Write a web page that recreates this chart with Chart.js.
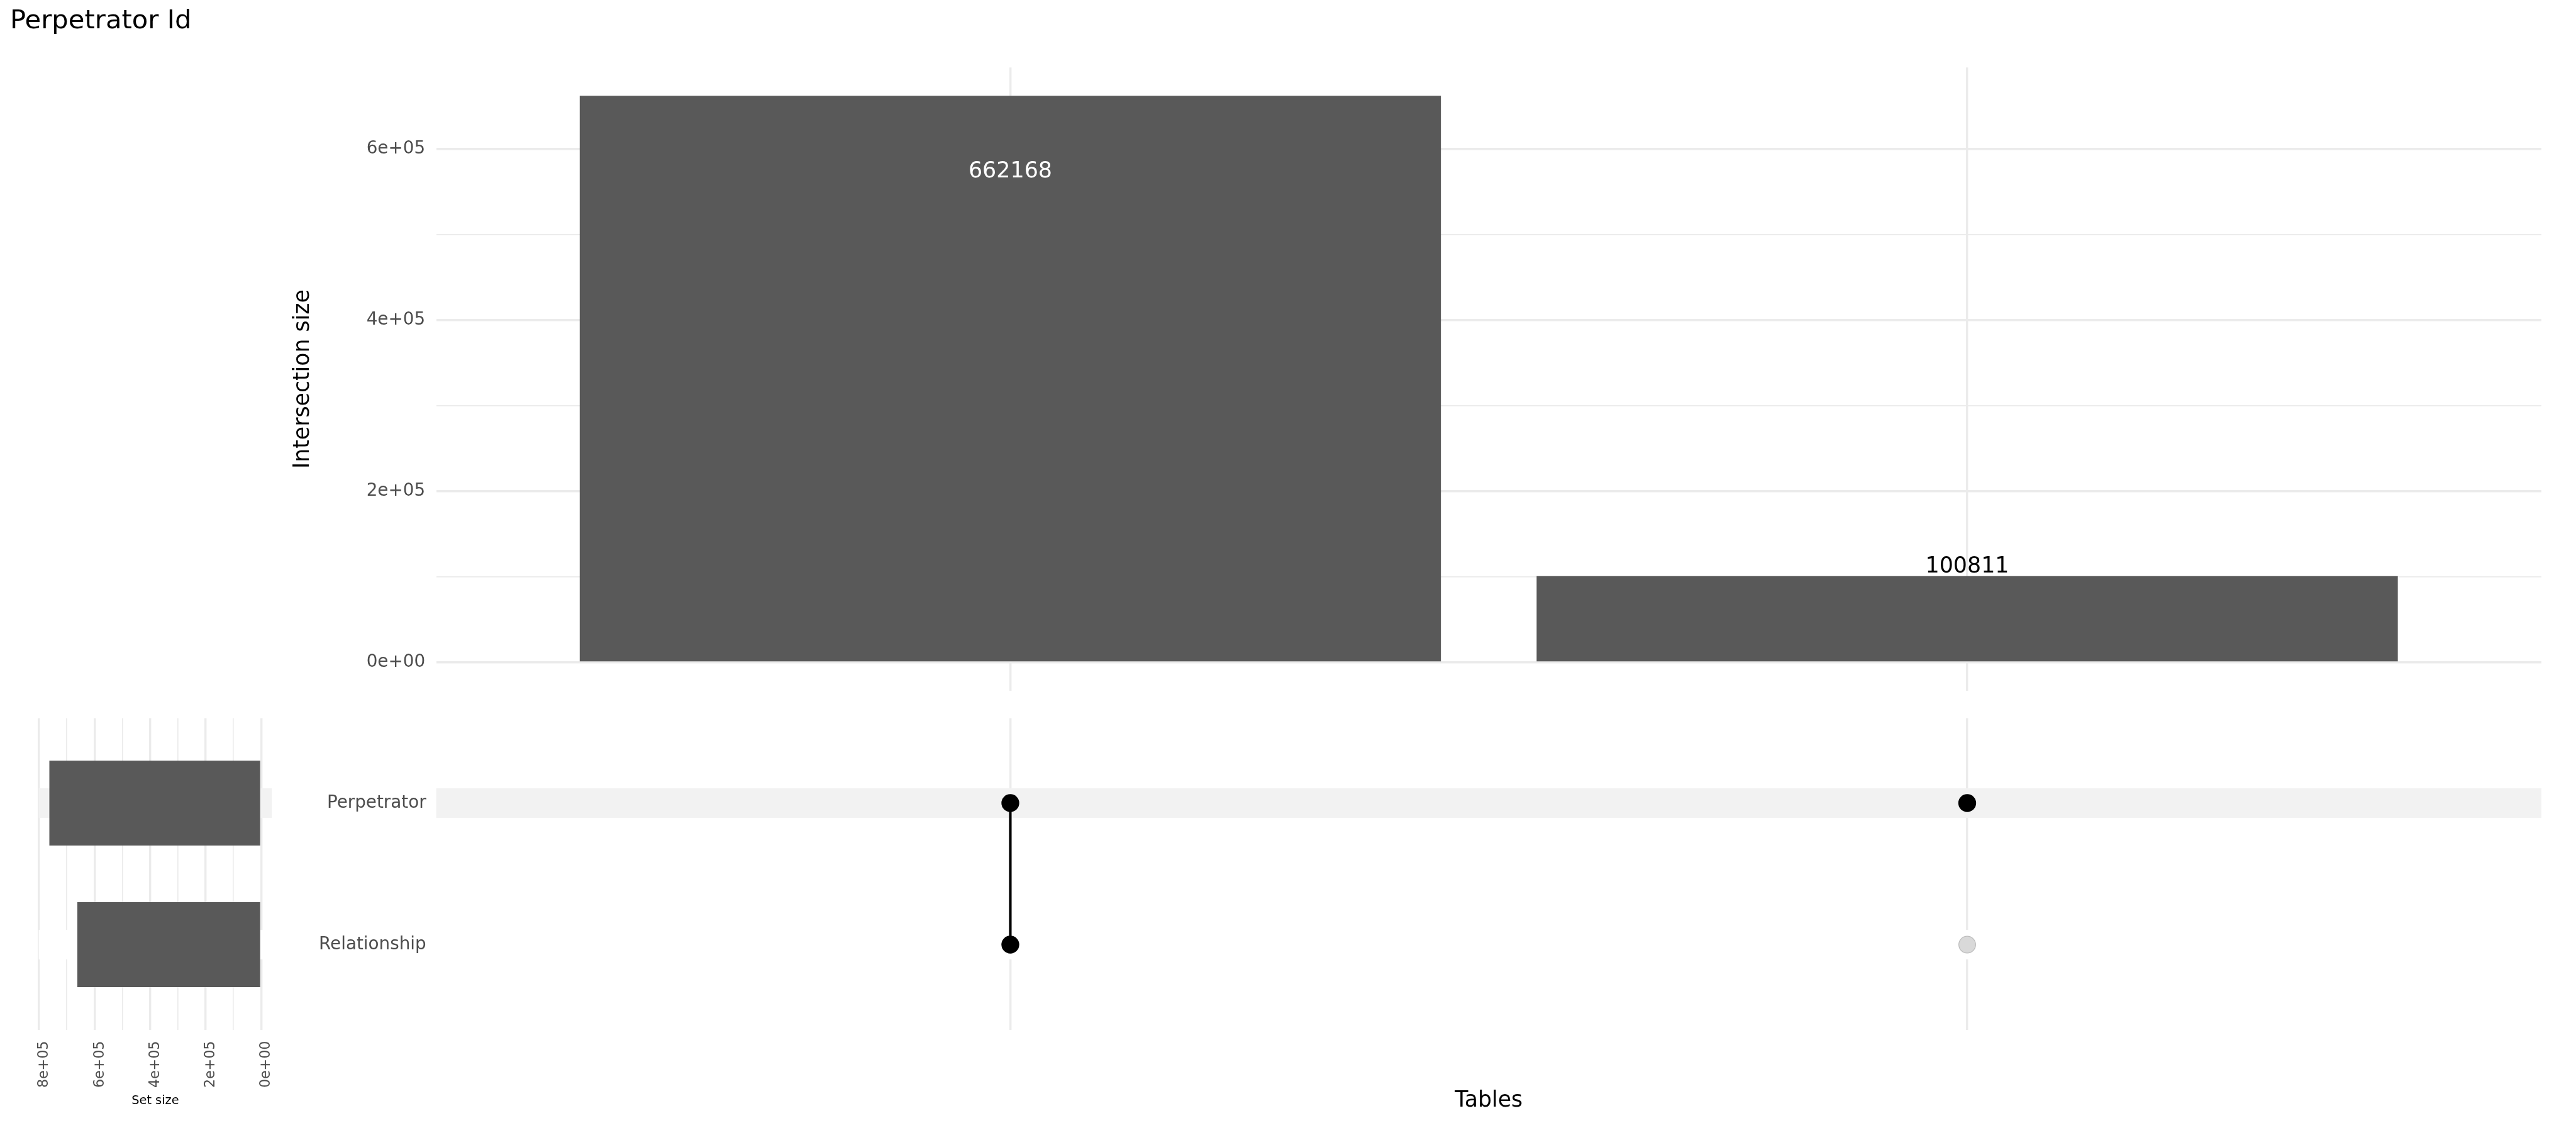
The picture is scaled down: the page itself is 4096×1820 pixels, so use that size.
<!DOCTYPE html>
<html><head><meta charset="utf-8">
<script src="https://cdn.jsdelivr.net/npm/chart.js@4.4.1/dist/chart.umd.min.js"></script>
<style>
html,body{margin:0;padding:0;background:#fff;width:4096px;height:1820px;overflow:hidden}
canvas{position:absolute;left:0;top:0}
</style></head><body>
<canvas id="topChart" width="4096" height="1820"></canvas>
<canvas id="matrixChart" width="4096" height="1820"></canvas>
<canvas id="setChart" width="4096" height="1820"></canvas>
<script>
// ---------- data ----------
const chartTitle = "Perpetrator Id";
const setNames = ["Perpetrator", "Relationship"];
const setSizes = [762979, 662168];
const intersections = ["Perpetrator & Relationship", "Perpetrator"];
const intersectionMembers = [["Perpetrator", "Relationship"], ["Perpetrator"]];
const intersectionSizes = [662168, 100811];
const intersectionTicks = [0, 100000, 200000, 300000, 400000, 500000, 600000];
const intersectionTickLabels = ["0e+00", "", "2e+05", "", "4e+05", "", "6e+05"];
const setSizeTicks = [0, 100000, 200000, 300000, 400000, 500000, 600000, 700000, 800000];
const setSizeTickLabels = ["0e+00", "", "2e+05", "", "4e+05", "", "6e+05", "", "8e+05"];
const yTitle = "Intersection size";
const xTitle = "Tables";
const setTitle = "Set size";

// ---------- layout (reference px scaled by S) ----------
const S = 0.758, W = 4096, H = 1820;
const FONT = "'DejaVu Sans', sans-serif";
Chart.defaults.font.family = FONT;
Chart.defaults.color = '#000';
const GRID = '#EBEBEB', BAR = '#595959', TICK = '#4D4D4D';
const majorW = 4.5 * S, minorW = 2.2 * S;

const mainL = 915 * S, mainR = 5331 * S;
const topB = 1448.4 * S;
const matT = 1506 * S, matB = 2159 * S;
const setL = 81.3 * S, setR = 570.2 * S;

const maxI = Math.max(...intersectionSizes);
const maxS = Math.max(...setSizes);

const common = {responsive: false, animation: false, events: [], devicePixelRatio: 1};

// ---------- plugins ----------
const barLabels = {
  id: 'barLabels',
  afterDatasetsDraw(chart) {
    const ctx = chart.ctx, ys = chart.scales.y;
    chart.getDatasetMeta(0).data.forEach((bar, i) => {
      const v = intersectionSizes[i];
      const inside = v > 0.5 * ys.max;
      ctx.save();
      ctx.font = (46 * S) + 'px ' + FONT;
      ctx.textAlign = 'center';
      ctx.textBaseline = 'alphabetic';
      ctx.fillStyle = inside ? '#FFFFFF' : '#000000';
      ctx.fillText(String(v), bar.x, inside ? bar.y + 170.8 * S : bar.y - 7 * S);
      ctx.restore();
    });
  }
};
const stripes = {
  id: 'stripes',
  beforeDatasetsDraw(chart) {
    const ctx = chart.ctx, ys = chart.scales.y, a = chart.chartArea;
    setNames.forEach((n, j) => {
      const y = ys.getPixelForValue(j + 1);
      ctx.save();
      ctx.fillStyle = j % 2 === 0 ? '#F2F2F2' : '#FFFFFF';
      ctx.fillRect(a.left, y - 31 * S, a.right - a.left, 62 * S);
      ctx.restore();
    });
  }
};

// ---------- top: intersection sizes ----------
new Chart(document.getElementById('topChart'), {
  type: 'bar',
  data: {datasets: [{
    data: intersectionSizes.map((v, i) => ({x: i + 1, y: v})),
    backgroundColor: BAR, borderWidth: 0, barPercentage: 0.9, categoryPercentage: 1
  }]},
  options: Object.assign({}, common, {
    layout: {padding: {left: 15.9, right: W - mainR, top: 0, bottom: H - topB}},
    plugins: {
      legend: {display: false}, tooltip: {enabled: false},
      title: {display: true, text: chartTitle, align: 'start', color: '#000',
        font: {size: 55 * S, weight: 'normal'}, padding: {top: 9.6, bottom: 47.7}}
    },
    scales: {
      x: {type: 'linear', min: 0.4, max: 2.6, bounds: 'data', offset: false,
        grid: {offset: false, color: GRID, lineWidth: majorW, drawTicks: false},
        border: {display: false}, ticks: {display: false},
        afterBuildTicks: s => { s.ticks = intersections.map((_, i) => ({value: i + 1})); },
        afterFit: s => { s.height = 0; }},
      y: {type: 'linear', min: -0.05 * maxI, max: 1.05 * maxI, bounds: 'data',
        grid: {color: GRID, drawTicks: false,
          lineWidth: c => (c.tick && c.tick.value % 200000 === 0) ? majorW : minorW},
        border: {display: false},
        ticks: {color: TICK, font: {size: 36.7 * S}, padding: 23 * S, autoSkip: false,
          callback: (v, i) => intersectionTickLabels[i]},
        afterBuildTicks: s => { s.ticks = intersectionTicks.map(v => ({value: v})); },
        afterFit: s => { s.width = mainL - 15.9; },
        title: {display: true, text: yTitle, color: '#000', font: {size: 45.8 * S},
          padding: {top: 444.8, bottom: 0}}}
    }
  }),
  plugins: [barLabels]
});

// ---------- matrix ----------
const inPts = [], outPts = [], lineSets = [];
intersections.forEach((_, i) => {
  const rows = [];
  setNames.forEach((n, j) => {
    const p = {x: i + 1, y: j + 1};
    if (intersectionMembers[i].includes(n)) { inPts.push(p); rows.push(p); } else outPts.push(p);
  });
  if (rows.length > 1) lineSets.push({
    type: 'line', data: rows, borderColor: '#000', borderWidth: 5.4 * S,
    pointRadius: 0, showLine: true, fill: false, order: 2
  });
});
new Chart(document.getElementById('matrixChart'), {
  type: 'scatter',
  data: {datasets: [
    {data: inPts, pointRadius: 18.7 * S, pointBackgroundColor: '#000', pointBorderWidth: 0, order: 0},
    {data: outPts, pointRadius: 17.6 * S, pointBackgroundColor: '#D9D9D9', pointBorderColor: '#BDBDBD', pointBorderWidth: 1.3, order: 1}
  ].concat(lineSets)},
  options: Object.assign({}, common, {
    layout: {padding: {left: 0, right: W - mainR, top: matT, bottom: 0}},
    plugins: {legend: {display: false}, tooltip: {enabled: false}},
    scales: {
      x: {type: 'linear', min: 0.4, max: 2.6, bounds: 'data', offset: false,
        grid: {offset: false, color: GRID, lineWidth: majorW, drawTicks: false},
        border: {display: false}, ticks: {display: false},
        afterBuildTicks: s => { s.ticks = intersections.map((_, i) => ({value: i + 1})); },
        afterFit: s => { s.height = H - matB; },
        title: {display: true, text: xTitle, color: '#000', font: {size: 45.8 * S},
          padding: {top: 0, bottom: 49}}},
      y: {type: 'linear', min: 0.4, max: 2.6, reverse: true, bounds: 'data', offset: false,
        grid: {display: false, drawTicks: false}, border: {display: false},
        ticks: {color: TICK, font: {size: 36.7 * S}, padding: 21 * S, autoSkip: false,
          callback: (v, i) => setNames[i]},
        afterBuildTicks: s => { s.ticks = setNames.map((_, j) => ({value: j + 1})); },
        afterFit: s => { s.width = mainL; }}
    }
  }),
  plugins: [stripes]
});

// ---------- set sizes ----------
new Chart(document.getElementById('setChart'), {
  type: 'bar',
  data: {datasets: [{
    data: setSizes.map((v, j) => ({x: v, y: j + 1})),
    backgroundColor: BAR, borderWidth: 0, barPercentage: 0.6, categoryPercentage: 1
  }]},
  options: Object.assign({}, common, {
    indexAxis: 'y',
    layout: {padding: {left: setL, right: W - setR, top: matT, bottom: 0}},
    plugins: {legend: {display: false}, tooltip: {enabled: false}},
    scales: {
      x: {type: 'linear', reverse: true, min: -0.05 * maxS, max: 1.05 * maxS, bounds: 'data',
        grid: {color: GRID, drawTicks: false,
          lineWidth: c => (c.tick && c.tick.value % 200000 === 0) ? majorW : minorW},
        border: {display: false},
        ticks: {color: TICK, font: {size: 29.2 * S}, padding: 24 * S, autoSkip: false,
          minRotation: 90, maxRotation: 90, labelOffset: 11 * S,
          callback: (v, i) => setSizeTickLabels[i]},
        afterBuildTicks: s => { s.ticks = setSizeTicks.map(v => ({value: v})); },
        afterFit: s => { s.height = H - matB; },
        title: {display: true, text: setTitle, color: '#000', font: {size: 25.5 * S},
          padding: {top: 0, bottom: 58}}},
      y: {type: 'linear', min: 0.4, max: 2.6, reverse: true, bounds: 'data', offset: false,
        grid: {display: false, offset: false, drawTicks: false}, border: {display: false}, ticks: {display: false},
        afterBuildTicks: s => { s.ticks = setNames.map((_, j) => ({value: j + 1})); },
        afterFit: s => { s.width = 0; }}
    }
  }),
  plugins: [stripes]
});
</script>
</body></html>
